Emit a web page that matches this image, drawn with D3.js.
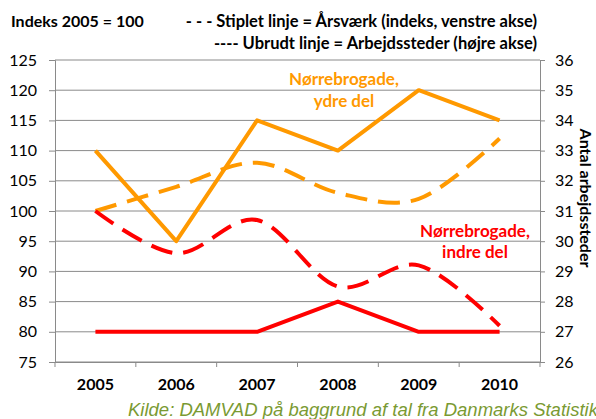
<!DOCTYPE html>
<html>
  <head>
    <meta charset="utf-8">
    <title>Nørrebrogade</title>
    <style>
      body { margin: 0; background: #fff; }
      svg { display: block; }
      .lbl { font-family: Lato, "Liberation Sans", sans-serif; font-size: 16px; fill: #000; }
      .bold { font-weight: bold; }
      .head { font-size: 16.5px; }
      .note { font-size: 17px; }
    </style>
  </head>
  <body>
    <div id="chart"></div>
    <script src="https://d3js.org/d3.v7.min.js"></script>
    <script>
      // data
      const years = ["2005", "2006", "2007", "2008", "2009", "2010"];
      // dashed: årsværk, index (left axis)
      const ydreIndeks = [100, 104, 108, 103, 102, 112];
      const indreIndeks = [100, 93, 98.5, 87.5, 91, 81];
      // solid: arbejdssteder (right axis)
      const ydreSteder = [33, 30, 34, 33, 35, 34];
      const indreSteder = [27, 27, 27, 28, 27, 27];
      const leftTicks = [75, 80, 85, 90, 95, 100, 105, 110, 115, 120, 125];
      const rightTicks = [26, 27, 28, 29, 30, 31, 32, 33, 34, 35, 36];

      const W = 596, H = 419;
      const mLeft = 55, mRight = 540, mTop = 60, mBottom = 362;
      const orange = "#ff9900", red = "#ff0000", grid = "#8a8a8a";

      const svg = d3.select("#chart").append("svg")
        .attr("width", W).attr("height", H);

      const x = d3.scaleBand().domain(years).range([mLeft, mRight]);
      const cx = d => x(d) + x.bandwidth() / 2;
      const yL = d3.scaleLinear().domain([75, 125]).range([mBottom, mTop]);
      const yR = d3.scaleLinear().domain([26, 36]).range([mBottom, mTop]);

      // gridlines
      svg.append("g").selectAll("line")
        .data(leftTicks)
        .join("line")
        .attr("x1", mLeft).attr("x2", mRight)
        .attr("y1", d => yL(d)).attr("y2", d => yL(d))
        .attr("stroke", grid).attr("stroke-width", 1);

      // left axis
      const gl = svg.append("g")
        .attr("transform", `translate(${mLeft},0)`)
        .call(d3.axisLeft(yL).tickValues(leftTicks).tickSize(6).tickPadding(12));
      // right axis
      const gr = svg.append("g")
        .attr("transform", `translate(${mRight},0)`)
        .call(d3.axisRight(yR).tickValues(rightTicks).tickSize(5).tickPadding(10));
      // bottom axis
      const gb = svg.append("g")
        .attr("transform", `translate(0,${mBottom})`)
        .call(d3.axisBottom(x).tickSize(0).tickPadding(17));
      gb.selectAll(".tick").append("line")
        .attr("x1", -x.bandwidth() / 2).attr("x2", -x.bandwidth() / 2)
        .attr("y1", 0).attr("y2", 5);
      gb.append("line")
        .attr("x1", mRight).attr("x2", mRight).attr("y1", 0).attr("y2", 5);

      [gl, gr, gb].forEach(g => {
        g.selectAll("path.domain").attr("stroke", grid);
        g.selectAll("line").attr("stroke", grid);
        g.selectAll("text").attr("class", "lbl").attr("fill", "#000");
      });
      gb.selectAll("text").attr("class", "lbl bold");

      // lines
      const dashed = d3.line().x((d, i) => cx(years[i])).y(d => yL(d))
        .curve(d3.curveCatmullRom.alpha(0));
      const solid = d3.line().x((d, i) => cx(years[i])).y(d => yR(d));

      const series = [
        { v: ydreIndeks, gen: dashed, c: orange, dash: "22,11" },
        { v: indreIndeks, gen: dashed, c: red, dash: "22,11" },
        { v: ydreSteder, gen: solid, c: orange, dash: null },
        { v: indreSteder, gen: solid, c: red, dash: null }
      ];
      svg.append("g").selectAll("path")
        .data(series)
        .join("path")
        .attr("d", s => s.gen(s.v))
        .attr("fill", "none")
        .attr("stroke", s => s.c)
        .attr("stroke-width", 4)
        .attr("stroke-linejoin", "round")
        .attr("stroke-dasharray", s => s.dash);

      // header
      svg.append("text").attr("class", "lbl bold")
        .attr("x", 11).attr("y", 27).text("Indeks 2005 = 100");
      svg.append("text").attr("class", "lbl bold head").attr("text-anchor", "end")
        .attr("x", 537).attr("y", 27).text("- - - Stiplet linje = Årsværk (indeks, venstre akse)");
      svg.append("text").attr("class", "lbl bold head").attr("text-anchor", "end")
        .attr("x", 537).attr("y", 49).text("---- Ubrudt linje = Arbejdssteder (højre akse)");

      // right axis title
      svg.append("text").attr("class", "lbl bold").attr("text-anchor", "middle")
        .attr("transform", "translate(580,198) rotate(90)")
        .text("Antal arbejdssteder");

      // annotations
      const notes = [
        { x: 344, y: 85, t: "Nørrebrogade,", c: orange },
        { x: 344, y: 107, t: "ydre del", c: orange },
        { x: 475, y: 237, t: "Nørrebrogade,", c: red },
        { x: 475, y: 258, t: "indre del", c: red }
      ];
      svg.append("g").selectAll("text")
        .data(notes)
        .join("text")
        .attr("class", "lbl bold note").attr("text-anchor", "middle")
        .attr("x", d => d.x).attr("y", d => d.y)
        .style("fill", d => d.c)
        .text(d => d.t);

      // source (runs past the right edge, as in the original)
      svg.append("text")
        .attr("x", 128).attr("y", 416)
        .style("font-family", "'Liberation Sans', Arial, sans-serif")
        .style("font-style", "italic").style("font-size", "18.5px")
        .style("fill", "#7a9a32")
        .text("Kilde: DAMVAD på baggrund af tal fra Danmarks Statistik");
    </script>
  </body>
</html>
